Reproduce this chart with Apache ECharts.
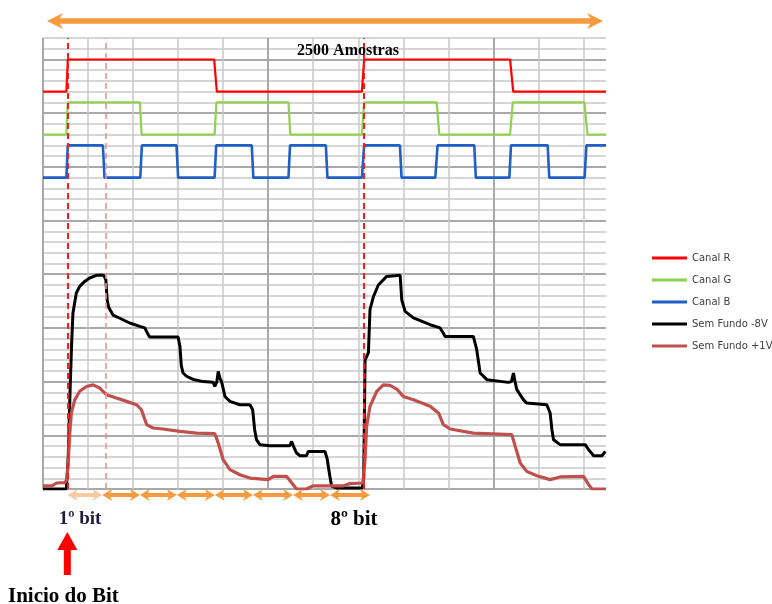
<!DOCTYPE html>
<html><head><meta charset="utf-8">
<script src="https://cdn.jsdelivr.net/npm/echarts@6/dist/echarts.min.js"></script>
<style>html,body{margin:0;padding:0;background:#fff}#c{width:772px;height:604px}</style>
</head><body><div id="c"></div>
<script>
// ---- data (x = sample index 0..2500, y = signal level) ----
const legendNames = ['Canal R', 'Canal G', 'Canal B', 'Sem Fundo -8V', 'Sem Fundo +1V'];
const seriesColors = ['#ff0000', '#92d050', '#1f5fc6', '#000000', '#c0504d'];

const canalR = [[0,3.7],[104,3.7],[110,4.0],[760,4.0],[772,3.7],[1416,3.7],[1426,4.0],[2074,4.0],[2088,3.7],[2500,3.7]];

const canalG = [[0,3.3],[104,3.3],[110,3.6],[430,3.6],[438,3.3],[762,3.3],[770,3.6],[1090,3.6],[1098,3.3],
  [1416,3.3],[1426,3.6],[1748,3.6],[1760,3.3],[2074,3.3],[2086,3.6],[2404,3.6],[2418,3.3],[2500,3.3]];

const canalB = [[0,2.9],[104,2.9],[110,3.2],[266,3.2],[273,2.9],[432,2.9],[439,3.2],[593,3.2],[600,2.9],
  [762,2.9],[769,3.2],[927,3.2],[934,2.9],[1090,2.9],[1097,3.2],[1256,3.2],[1263,2.9],[1416,2.9],[1426,3.2],
  [1585,3.2],[1592,2.9],[1742,2.9],[1752,3.2],[1915,3.2],[1922,2.9],[2071,2.9],[2078,3.2],[2241,3.2],[2248,2.9],
  [2405,2.9],[2413,3.2],[2500,3.2]];

const semFundoMenos8V = [[0,0],[104,0],[112,0.3],[120,0.9],[127,1.35],[133,1.64],[148,1.825],[163,1.887],[185,1.933],
  [207,1.965],[237,1.99],[270,1.99],[279,1.95],[285,1.76],[292,1.69],[311,1.62],[341,1.59],[385,1.546],[430,1.514],
  [452,1.5],[467,1.437],[474,1.415],[600,1.415],[608,1.33],[614,1.15],[622,1.08],[637,1.05],[667,1.02],[711,1.0],
  [756,0.993],[763,0.955],[772,1.0],[778,1.095],[786,1.03],[793,1.0],[808,0.862],[830,0.816],[874,0.785],[919,0.785],
  [931,0.738],[940,0.55],[948,0.46],[963,0.413],[1007,0.403],[1096,0.403],[1104,0.443],[1112,0.40],[1126,0.335],
  [1141,0.31],[1170,0.31],[1178,0.35],[1252,0.35],[1262,0.28],[1267,0.21],[1274,0.117],[1282,0.024],[1304,0.01],
  [1418,0.01],[1424,0.1],[1430,1.2],[1445,1.27],[1452,1.67],[1467,1.79],[1489,1.9],[1526,1.98],[1586,1.99],
  [1593,1.76],[1608,1.654],[1645,1.593],[1719,1.53],[1763,1.5],[1778,1.45],[1785,1.421],[1911,1.421],[1926,1.297],
  [1941,1.08],[1971,1.018],[2067,0.993],[2080,1.0],[2089,1.08],[2096,1.0],[2104,0.925],[2133,0.832],[2148,0.8],
  [2237,0.785],[2252,0.708],[2260,0.55],[2267,0.459],[2296,0.413],[2408,0.413],[2415,0.39],[2423,0.366],
  [2445,0.31],[2482,0.31],[2497,0.35],[2500,0.35]];

const semFundoMais1V = [[0,0.03],[40,0.03],[60,0.056],[96,0.06],[104,0.08],[111,0.21],[119,0.52],[126,0.71],[141,0.83],
  [163,0.91],[193,0.955],[222,0.97],[252,0.94],[282,0.878],[326,0.847],[371,0.816],[415,0.785],[437,0.738],[460,0.6],
  [489,0.568],[533,0.559],[608,0.536],[682,0.52],[763,0.515],[778,0.43],[800,0.273],[830,0.18],[874,0.133],
  [919,0.102],[1000,0.087],[1023,0.117],[1082,0.117],[1111,0.04],[1126,0.0],[1170,0.0],[1200,0.03],[1334,0.03],
  [1363,0.05],[1420,0.056],[1430,0.27],[1437,0.58],[1452,0.77],[1482,0.91],[1511,0.97],[1541,0.965],[1571,0.93],
  [1600,0.862],[1645,0.832],[1719,0.77],[1756,0.708],[1778,0.6],[1808,0.559],[1911,0.52],[2082,0.506],[2097,0.397],
  [2119,0.242],[2148,0.164],[2193,0.124],[2252,0.087],[2296,0.112],[2400,0.117],[2423,0.04],[2438,0.0],[2500,0.0]];

const dashedMarks = [108, 280, 1424];
const bitBoundaries = [110, 263, 430, 594, 763, 932, 1110, 1274, 1452];
const xMax = 2500, yMax = 4.2;

const allData = [canalR, canalG, canalB, semFundoMenos8V, semFundoMais1V];
const widths = [2.2, 2.2, 2.6, 3, 3.2];

const chart = echarts.init(document.getElementById('c'), null, {renderer: 'canvas'});

function hidden(extra) {
  return Object.assign({axisLine:{show:false}, axisTick:{show:false}, axisLabel:{show:false}}, extra);
}

const series = allData.map((d, i) => ({
  name: legendNames[i], type: 'line', data: d, showSymbol: false, symbol: 'none',
  color: seriesColors[i], lineStyle: {width: widths[i], color: seriesColors[i]},
  xAxisIndex: 0, yAxisIndex: 0, animation: false, z: 3
}));
series[4].markLine = {
  silent: true, symbol: ['none', 'none'], label: {show: false}, animation: false,
  data: dashedMarks.map((v, k) => ({xAxis: v, lineStyle: {
    color: k === 1 ? '#e99494' : '#ff1a1a', width: k === 1 ? 1.6 : 2, type: [6, 4]}}))
};

chart.setOption({
  animation: false,
  grid: {left: 43, top: 38, width: 563, height: 451, containLabel: false},
  legend: {
    orient: 'vertical', left: 647, top: 248, itemWidth: 35, itemHeight: 3, itemGap: 12, icon: 'rect',
    data: legendNames, textStyle: {fontSize: 10, color: '#404040', fontFamily: 'DejaVu Sans'}, selectedMode: false
  },
  xAxis: [
    hidden({type:'value', min:0, max:xMax, interval:200,
      splitLine:{show:true, showMaxLine:false, lineStyle:{color:'#c8c8c8', width:1.5}}}),
    hidden({type:'value', min:0, max:xMax, interval:1000,
      splitLine:{show:true, showMaxLine:false, lineStyle:{color:'#9a9a9a', width:1.5}}})
  ],
  yAxis: [
    hidden({type:'value', min:0, max:yMax, interval:0.1,
      splitLine:{show:true, lineStyle:{color:'#c8c8c8', width:1.5}}}),
    hidden({type:'value', min:0, max:yMax, interval:0.5,
      splitLine:{show:true, showMaxLine:false, lineStyle:{color:'#9a9a9a', width:1.5}}})
  ],
  series: series
});

// ---- annotations positioned from the axes ----
function px(x, y) { return chart.convertToPixel({xAxisIndex: 0, yAxisIndex: 0}, [x, y]); }
function head(tx, ty, dir, len, half, notch, color) {
  return {type: 'polygon', z: 50, shape: {points: [[tx, ty], [tx - dir * len, ty - half],
    [tx - dir * (len - notch), ty], [tx - dir * len, ty + half]]}, style: {fill: color}};
}
function dblArrow(xa, xb, y, w, len, half, notch, color) {
  return [
    {type: 'line', z: 49, shape: {x1: xa + len - notch, y1: y, x2: xb - len + notch, y2: y},
      style: {stroke: color, lineWidth: w}},
    head(xa, y, -1, len, half, notch, color),
    head(xb, y, 1, len, half, notch, color)
  ];
}
const orange = '#f89a3e';
const els = [];
const topY = 21;
els.push(...dblArrow(px(0, 0)[0] + 4, px(xMax, 0)[0] - 3, topY, 5.5, 16, 8, 5, orange));
const botY = px(0, 0)[1] + 6;
for (let i = 0; i < bitBoundaries.length - 1; i++) {
  const xa = px(bitBoundaries[i], 0)[0], xb = px(bitBoundaries[i + 1], 0)[0];
  els.push(...dblArrow(xa, xb, botY, 4, 10, 6, 3, i === 0 ? '#f9c9a0' : orange));
}
const sx = px(dashedMarks[0], 0)[0];
els.push({type: 'polygon', z: 50, shape: {points: [[sx, 532], [sx - 10, 550], [sx - 3.5, 550], [sx - 3.5, 575],
  [sx + 3.5, 575], [sx + 3.5, 550], [sx + 10, 550]]}, style: {fill: '#ff0000'}});
function txt(t, x, y, size, align, color) {
  return {type: 'text', z: 60, style: {text: t, x: x, y: y, fill: color || '#000',
    font: 'bold ' + size + 'px "Liberation Serif", "Times New Roman", serif',
    textAlign: align || 'center', align: align || 'center', textVerticalAlign: 'middle', verticalAlign: 'middle'}};
}
els.push(txt('2500 Amostras', 348, 51, 16));
els.push(txt('1º bit', 80, 519, 19, 'center', '#1c1c3c'));
els.push(txt('8º bit', 354, 520, 21));
els.push(txt('Inicio do Bit', 8, 597, 21, 'left'));
chart.setOption({graphic: {elements: els}});
</script>
</body></html>
